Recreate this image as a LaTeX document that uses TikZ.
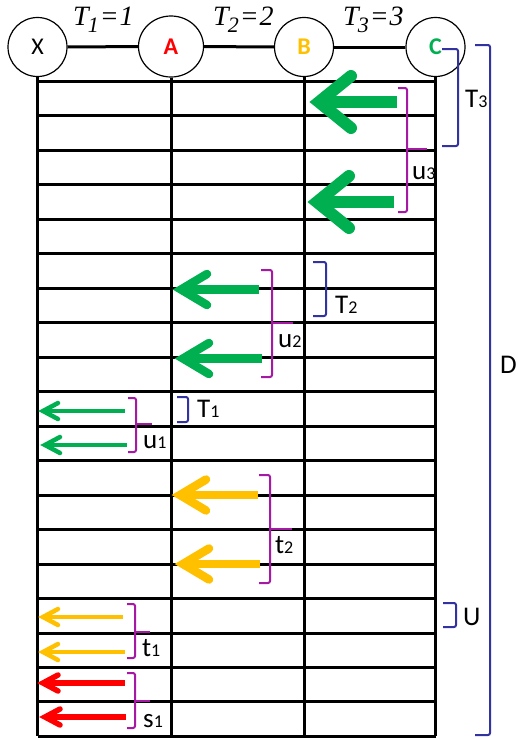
\documentclass[tikz,border=0pt]{standalone}
\usepackage{fontspec}
\setmainfont{Carlito}
\newfontfamily\tnr{Liberation Serif}
\usetikzlibrary{shapes.geometric}
\definecolor{cgreen}{RGB}{0,176,80}
\definecolor{cyellow}{RGB}{255,192,0}
\definecolor{cred}{RGB}{255,0,0}
\definecolor{cpurple}{RGB}{165,25,165}
\definecolor{cblue}{RGB}{50,50,160}
% #1 colour, #2 width, #3 vertex x, #4 y, #5 tail x, #6 wing dx, #7 wing dy
\newcommand{\harrow}[7]{%
  \draw[#1, line width=#2, line cap=butt] (#3,#4) -- (#5,#4);
  \draw[#1, line width=#2, line cap=round, line join=miter] (#3+#6,#4-#7) -- (#3,#4) -- (#3+#6,#4+#7);
}
\newcommand{\sublbl}[2]{#1{\fontsize{18}{18}\selectfont #2}}
\newcommand{\toptxt}[2]{T\kern-1pt\raisebox{-7pt}{\fontsize{22}{22}\selectfont #1}\kern1pt=\kern1pt#2}
\begin{document}
\begin{tikzpicture}[x=1pt,y=-1pt,
  station/.style={draw, line width=1.2pt, ellipse, inner sep=0pt, minimum width=59pt, minimum height=59pt, font=\fontsize{24}{24}\selectfont},
  gridline/.style={line width=3pt},
  pbr/.style={cpurple, line width=2pt, rounded corners=2pt},
  bbr/.style={cblue, line width=2pt, rounded corners=2pt},
  lbl/.style={anchor=base west, inner sep=0pt, font=\fontsize{27}{27}\selectfont},
  toplbl/.style={anchor=base west, inner sep=0pt, font=\tnr\itshape\fontsize{28}{28}\selectfont}
]
\useasboundingbox (0,0) rectangle (518,740);
\coordinate (bot) at (0,736);
% horizontal grid lines
\foreach \i in {0,...,19} \draw[gridline] (37.5,81.5+\i*34.47) -- (435.5,81.5+\i*34.47);
% stations
\node[station] (X) at (37.5,47) {X};
\node[station, minimum width=65pt, minimum height=61pt, text=cred, font=\fontsize{24}{24}\selectfont\bfseries] (A) at (171,46.5) {A};
\node[station, text=cyellow, font=\fontsize{24}{24}\selectfont\bfseries] (B) at (304,47) {B};
\node[station, text=cgreen, font=\fontsize{24}{24}\selectfont\bfseries] (C) at (435.5,47) {C};
\draw[gridline] (X) -- (A);
\draw[gridline] (A) -- (B);
\draw[gridline] (B) -- (C);
\foreach \n in {X,A,B,C} \draw[gridline] (\n.south) -- (\n.south |- bot);
% top labels
\node[toplbl] (t1) at (73,25) {\toptxt{1}{1}};
\node[toplbl] (t2) at (213,25) {\toptxt{2}{2}};
\node[toplbl] (t3) at (343,25) {\toptxt{3}{3}};
% arrows
\harrow{cgreen}{12pt}{319}{102}{397}{32}{26}
\harrow{cgreen}{12pt}{317}{202}{394}{32}{26}
\harrow{cgreen}{8.5pt}{181}{289.5}{259}{26}{15.5}
\harrow{cgreen}{8.5pt}{183}{358.5}{262}{26}{15.5}
\harrow{cyellow}{8.5pt}{180}{495}{258}{26}{15.5}
\harrow{cyellow}{8.5pt}{183}{564}{260}{26}{15.5}
\harrow{cgreen}{4.5pt}{43}{411}{125}{15}{8}
\harrow{cgreen}{4.5pt}{45}{445}{127}{15}{8}
\harrow{cyellow}{4.5pt}{43}{617}{123}{15}{8}
\harrow{cyellow}{4.5pt}{43}{652}{125}{15}{8}
\harrow{cred}{5.5pt}{43}{683}{125}{15}{8}
\harrow{cred}{5.5pt}{45}{717}{126}{15}{8}
% purple brackets
\draw[pbr] (398,88) -- (407,88) -- (407,212) -- (398,212);
\draw[cpurple, line width=2pt] (407,149) -- (427,149);
\node[lbl] (lu3) at (412,179) {\sublbl{u}{3}};
\draw[pbr] (261,270) -- (272,270) -- (272,377) -- (261,377);
\draw[cpurple, line width=2pt] (272,323) -- (293,323);
\node[lbl] (lu2) at (278,347) {\sublbl{u}{2}};
\draw[pbr] (128,398) -- (136,398) -- (136,452) -- (128,452);
\draw[cpurple, line width=2pt] (136,424) -- (152,424);
\node[lbl] (lu1) at (143,448) {\sublbl{u}{1}};
\draw[pbr] (259,475) -- (270,475) -- (270,583) -- (259,583);
\draw[cpurple, line width=2pt] (270,529) -- (292,529);
\node[lbl] (lt2) at (275,553) {\sublbl{t}{2}};
\draw[pbr] (127,604) -- (135,604) -- (135,658) -- (127,658);
\draw[cpurple, line width=2pt] (135,632) -- (150,632);
\node[lbl] (lt1) at (142,656) {\sublbl{t}{1}};
\draw[pbr] (127,673) -- (135,673) -- (135,728) -- (127,728);
\draw[cpurple, line width=2pt] (135,701) -- (150,701);
\node[lbl] (ls1) at (143,727) {\sublbl{s}{1}};
% blue brackets
\draw[bbr] (442,49) -- (458,49) -- (458,146) -- (442,146);
\node[lbl] (lT3) at (465,107) {\sublbl{T}{3}};
\draw[bbr] (475,45) -- (490,45) -- (490,735) -- (475,735);
\node[lbl] (lD) at (500,373) {D};
\draw[bbr] (313,262) -- (326,262) -- (326,316) -- (313,316);
\node[lbl] (lT2) at (335,313) {\sublbl{T}{2}};
\draw[bbr] (177,397) -- (188,397) -- (188,422) -- (177,422);
\node[lbl] (lT1) at (197,417) {\sublbl{T}{1}};
\draw[bbr] (443,603) -- (456,603) -- (456,627) -- (443,627);
\node[lbl] (lU) at (463,625) {U};
\end{tikzpicture}
\end{document}
